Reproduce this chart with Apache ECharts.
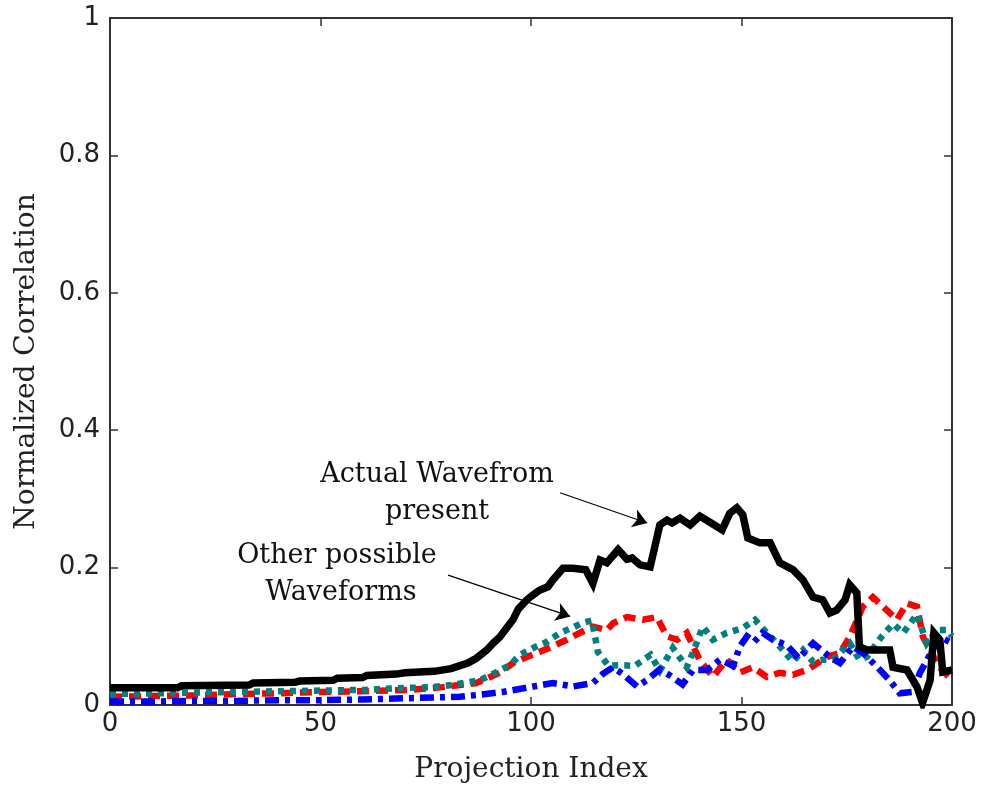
<!DOCTYPE html>
<html>
<head>
<meta charset="utf-8">
<script src="https://cdn.jsdelivr.net/npm/echarts@6/dist/echarts.min.js"></script>
<style>
  html, body { margin: 0; padding: 0; background: #fff; }
  #chart { width: 982px; height: 789px; }
</style>
</head>
<body>
<div id="chart"></div>
<script>
// Axis ticks
const xTicks = [0, 50, 100, 150, 200];
const yTicks = [0, 0.2, 0.4, 0.6, 0.8, 1];

// Correlation of the actual waveform, [projection index, normalized correlation]
const actualWave = [
  [0,0.025],[16,0.025],[17,0.028],[33,0.029],[34,0.032],[44,0.033],[45,0.035],[53,0.036],[54,0.039],
  [60,0.040],[61,0.043],[68,0.045],[70,0.047],[77,0.049],[81,0.053],[85,0.061],[87,0.068],[89.5,0.080],
  [91,0.090],[92.6,0.099],[95.7,0.124],[97,0.140],[99,0.153],[100,0.158],[102,0.167],[104,0.172],
  [105.2,0.182],[107.6,0.199],[110,0.199],[113,0.197],[114.7,0.177],[116.4,0.211],[118,0.207],
  [120.7,0.226],[122.8,0.212],[124,0.214],[125.9,0.204],[128.3,0.201],[129.4,0.230],[130.6,0.262],
  [132.3,0.269],[133.5,0.265],[135.4,0.272],[137.8,0.262],[140.1,0.275],[142.5,0.266],[145.4,0.255],
  [147.2,0.279],[148.9,0.287],[150.3,0.277],[151.5,0.243],[154.4,0.236],[156.8,0.236],[159.1,0.207],
  [162.2,0.197],[164.6,0.182],[167,0.157],[169.3,0.153],[171,0.134],[172.6,0.138],[174.6,0.153],
  [175.7,0.175],[177.4,0.163],[178,0.085],[179.8,0.080],[185.2,0.080],[186,0.055],[189.3,0.051],
  [191.7,0.026],[193,0.003],[194.8,0.036],[195.7,0.105],[197.1,0.095],[197.8,0.048],[200,0.051]
];

// Correlations of the other candidate waveforms
const otherRed = [
  [0,0.012],[10,0.013],[20,0.014],[30,0.016],[40,0.017],[50,0.019],[60,0.020],[71,0.022],[79,0.026],
  [87,0.032],[92.6,0.047],[95.7,0.061],[99,0.070],[102,0.077],[105,0.085],[108.5,0.095],[111.6,0.105],
  [114.7,0.114],[118,0.109],[119.5,0.119],[122.8,0.128],[126.6,0.124],[129.9,0.128],[131,0.115],
  [132.3,0.100],[134.7,0.095],[137,0.105],[140.1,0.065],[143.2,0.041],[146.5,0.066],[149.6,0.047],
  [152.7,0.055],[156,0.041],[159.1,0.047],[162.2,0.044],[165.5,0.051],[170.3,0.070],[173.4,0.076],
  [175.7,0.099],[178.8,0.143],[181.2,0.157],[184.5,0.138],[186.9,0.124],[189.3,0.148],[191.7,0.143],
  [193.1,0.099],[197,0.055],[200,0.036]
];
const otherTeal = [
  [0,0.016],[10,0.017],[20,0.018],[30,0.019],[40,0.020],[50,0.021],[60,0.022],[71,0.025],[76.7,0.026],
  [81,0.029],[87.9,0.036],[91.9,0.048],[95,0.058],[97.4,0.073],[100.5,0.083],[103.8,0.092],[106.9,0.105],
  [110,0.113],[112,0.119],[114.5,0.123],[115.9,0.077],[118.4,0.057],[121,0.058],[124.7,0.057],
  [128.4,0.073],[130.6,0.050],[133.7,0.083],[137,0.055],[138.5,0.077],[140.8,0.114],[143.2,0.095],
  [146.5,0.105],[150.3,0.112],[153.2,0.124],[156,0.105],[158.4,0.090],[162.2,0.063],[164.6,0.080],
  [167,0.063],[169.3,0.066],[171.7,0.066],[175.7,0.090],[178,0.066],[179.8,0.070],[183.2,0.099],
  [186,0.118],[188.4,0.105],[191.7,0.132],[194,0.090],[196.4,0.109],[198.8,0.109],[200,0.100]
];
const otherBlue = [
  [0,0.005],[10,0.005],[20,0.006],[30,0.006],[40,0.007],[50,0.007],[60,0.008],[71,0.010],[83,0.012],
  [87.9,0.015],[93.3,0.019],[99.7,0.026],[105.2,0.032],[110,0.027],[114.7,0.032],[117,0.045],
  [119.5,0.055],[121.8,0.045],[125.2,0.027],[127.5,0.036],[130.6,0.052],[133,0.043],[136,0.030],
  [138.5,0.051],[141.8,0.051],[144.9,0.066],[148,0.057],[149.6,0.085],[151.3,0.100],[153,0.092],
  [155,0.105],[157.5,0.095],[160.8,0.087],[163.6,0.068],[167,0.090],[171,0.070],[173.4,0.061],
  [176.5,0.085],[179,0.075],[182.9,0.051],[185.2,0.036],[187.6,0.017],[190.7,0.019],[192.4,0.047],
  [197.1,0.099],[200,0.090]
];

// Annotation arrows: [tail, head] in data units
const arrowActual = [[106.9, 0.309], [127.6, 0.265]];
const arrowOthers = [[80.3, 0.189], [109.3, 0.129]];

const serif = 'DejaVu Serif';
const sans = 'DejaVu Sans';
const frame = '#333';

const chart = echarts.init(document.getElementById('chart'), null, { renderer: 'canvas' });

function fmtY(v) { return v === 0 ? '0' : (v === 1 ? '1' : String(v)); }

const baseAxis = {
  axisLine: { show: true, onZero: false, lineStyle: { color: frame, width: 2 } },
  axisTick: { show: true, inside: true, length: 8, lineStyle: { color: frame, width: 1.5 } },
  splitLine: { show: false }
};

function curve(name, data, color, dash, z, width) {
  return {
    name, type: 'line', data, z,
    showSymbol: false, symbol: 'none', animation: false,
    lineStyle: { color, width, type: dash, cap: 'butt', join: 'miter' }
  };
}

const option = {
  animation: false,
  backgroundColor: '#ffffff',
  grid: { left: 110, right: 30, top: 18, bottom: 84, containLabel: false, outerBoundsMode: 'none' },
  xAxis: [
    Object.assign({}, baseAxis, {
      type: 'value', min: 0, max: 200, interval: 50, position: 'bottom',
      name: 'Projection Index', nameLocation: 'middle', nameGap: 51,
      nameTextStyle: { fontFamily: serif, fontSize: 28, color: '#222' },
      axisLabel: { margin: 6, fontFamily: sans, fontSize: 26, color: '#222',
        formatter: v => xTicks.includes(v) ? String(v) : '' }
    }),
    Object.assign({}, baseAxis, {
      type: 'value', min: 0, max: 200, interval: 50, position: 'top',
      axisLabel: { show: false }
    })
  ],
  yAxis: [
    Object.assign({}, baseAxis, {
      type: 'value', min: 0, max: 1, interval: 0.2, position: 'left',
      name: 'Normalized Correlation', nameLocation: 'middle', nameGap: 69, nameRotate: 90,
      nameTextStyle: { fontFamily: serif, fontSize: 28, color: '#222' },
      axisLabel: { margin: 10, fontFamily: sans, fontSize: 26, color: '#222',
        formatter: v => { const t = yTicks.find(k => Math.abs(k - v) < 1e-9); return t === undefined ? '' : fmtY(t); } }
    }),
    Object.assign({}, baseAxis, {
      type: 'value', min: 0, max: 1, interval: 0.2, position: 'right',
      axisLabel: { show: false }
    })
  ],
  series: [
    curve('Red', otherRed, '#ff0000', [12, 7], 2, 6.5),
    curve('Teal', otherTeal, '#008080', [6, 6], 3, 6.5),
    curve('Blue', otherBlue, '#0000ff', [14, 6, 5, 6], 4, 6.5),
    curve('Actual', actualWave, '#000000', 'solid', 5, 7.5),
    {
      type: 'line', data: [], z: 6, silent: true,
      markLine: {
        silent: true, animation: false,
        symbol: ['none', 'arrow'], symbolSize: 14,
        label: { show: false },
        emphasis: { disabled: true },
        lineStyle: { color: '#000', width: 1.2, type: 'solid' },
        data: [
          [{ coord: arrowActual[0] }, { coord: arrowActual[1] }],
          [{ coord: arrowOthers[0] }, { coord: arrowOthers[1] }]
        ]
      }
    }
  ],
  graphic: [
    { type: 'text', x: 437, y: 475, style: { text: 'Actual Wavefrom', font: '27px "DejaVu Serif"', fill: '#111', textAlign: 'center', textVerticalAlign: 'middle' } },
    { type: 'text', x: 437, y: 512, style: { text: 'present', font: '27px "DejaVu Serif"', fill: '#111', textAlign: 'center', textVerticalAlign: 'middle' } },
    { type: 'text', x: 337, y: 556, style: { text: 'Other possible', font: '27px "DejaVu Serif"', fill: '#111', textAlign: 'center', textVerticalAlign: 'middle' } },
    { type: 'text', x: 341, y: 593, style: { text: 'Waveforms', font: '27px "DejaVu Serif"', fill: '#111', textAlign: 'center', textVerticalAlign: 'middle' } }
  ]
};

chart.setOption(option);
</script>
</body>
</html>
